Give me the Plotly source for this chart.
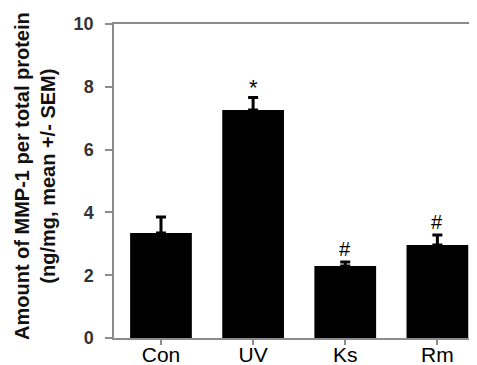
import plotly.graph_objects as go

categories = ["Con", "UV", "Ks", "Rm"]
values = [3.34, 7.26, 2.29, 2.96]
sem = [0.51, 0.40, 0.13, 0.32]
marks = ["", "*", "#", "#"]
y_ticks = [0, 2, 4, 6, 8, 10]
y_ticktext = ["<b>0</b>", "<b>2</b>", "<b>4</b>", "<b>6</b>", "<b>8</b>", "<b>10</b>"]

FONT = "Liberation Sans, Arial, sans-serif"
AX = "#8c8c8c"

fig = go.Figure()
fig.add_trace(go.Bar(
    x=categories, y=values, width=0.67,
    marker=dict(color="black", line=dict(width=0)),
    error_y=dict(type="data", array=sem, arrayminus=[0] * len(sem), symmetric=False,
                 color="black", thickness=3, width=5),
))

for c, v, s, m in zip(categories, values, sem, marks):
    if m:
        fig.add_annotation(x=c, y=v + s, text=m, showarrow=False, yanchor="bottom",
                           yshift=0 if m == "#" else -5,
                           font=dict(family=FONT, size=20 if m == "#" else 22, color="black"))

fig.add_annotation(xref="paper", yref="paper", x=-0.2176, y=0.516, xanchor="center", yanchor="middle",
                   text="<b>Amount of MMP-1 per total protein<br>(ng/mg, mean +/- SEM)</b>",
                   textangle=-90, showarrow=False,
                   font=dict(family=FONT, size=20, color="#111"))

# page body has an 8px margin, so the figure is sized to fit the window from (8, 8)
fig.update_layout(
    width=469, height=357,
    margin=dict(l=106, r=0, t=16, b=27, autoexpand=False),
    paper_bgcolor="white", plot_bgcolor="white",
    showlegend=False,
    font=dict(family=FONT),
    xaxis=dict(range=[-0.51, 3.43], showline=True, linecolor=AX, linewidth=1.5, mirror=True,
               ticks="outside", ticklen=5, tickcolor=AX, tickwidth=1.5, automargin=False,
               ticklabelstandoff=-8,
               tickfont=dict(family=FONT, size=21, color="black"), showgrid=False, zeroline=False),
    yaxis=dict(range=[0, 10], tickvals=y_ticks, ticktext=y_ticktext, showline=True, linecolor=AX,
               linewidth=1.5, ticks="outside", ticklen=7, tickcolor=AX, tickwidth=1.5,
               automargin=False, ticklabelstandoff=8,
               tickfont=dict(family=FONT, size=18, color="#333"), showgrid=False, zeroline=False),
)

fig.write_html("out.html")
